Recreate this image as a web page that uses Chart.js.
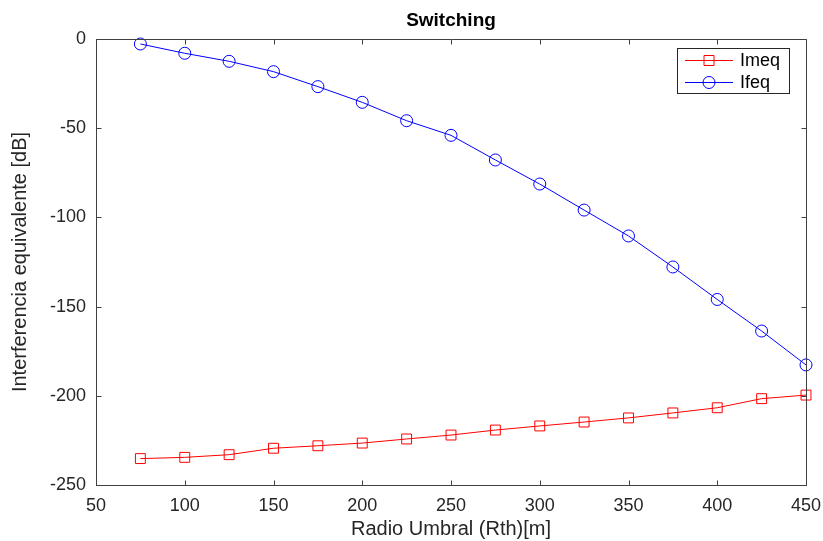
<!DOCTYPE html>
<html>
<head>
<meta charset="utf-8">
<script src="https://cdn.jsdelivr.net/npm/chart.js@4/dist/chart.umd.min.js"></script>
<style>
html,body{margin:0;padding:0;background:#fff;}
#wrap{width:823px;height:541px;}
</style>
</head>
<body>
<div id="wrap"><canvas id="c" width="823" height="541"></canvas></div>
<script>
const radioUmbral = [75,100,125,150,175,200,225,250,275,300,325,350,375,400,425,450];
const imeq = [-235.2,-234.5,-233,-229.4,-228,-226.5,-224.2,-222,-219.2,-216.9,-214.7,-212.4,-209.6,-206.7,-201.6,-199.6];
const ifeq = [-2.8,-8,-12.5,-18.3,-26.7,-35.5,-45.8,-54,-67.8,-81.3,-95.9,-110.4,-127.8,-146,-163.7,-182.7];
const xTicks = [50,100,150,200,250,300,350,400,450];
const yTicks = [0,-50,-100,-150,-200,-250];

const AX = '#404040';
const TXT = '#262626';
const FONT = "'Liberation Sans', Arial, Helvetica, sans-serif";

const framePlugin = {
  id: 'frame',
  afterDraw(chart) {
    const ctx = chart.ctx, a = chart.chartArea;
    const xs = chart.scales.x, ys = chart.scales.y;
    ctx.save();
    ctx.strokeStyle = AX; ctx.lineWidth = 1;
    ctx.beginPath();
    const L = Math.round(a.left)+0.5, R = Math.round(a.right)+0.5, T = Math.round(a.top)+0.5, B = Math.round(a.bottom)+0.5;
    ctx.rect(L, T, R-L, B-T);
    const tl = 5;
    xTicks.forEach(v => {
      const px = Math.round(xs.getPixelForValue(v))+0.5;
      ctx.moveTo(px, B); ctx.lineTo(px, B - tl);
      ctx.moveTo(px, T); ctx.lineTo(px, T + tl);
    });
    yTicks.forEach(v => {
      const py = Math.round(ys.getPixelForValue(v))+0.5;
      ctx.moveTo(L, py); ctx.lineTo(L + tl, py);
      ctx.moveTo(R, py); ctx.lineTo(R - tl, py);
    });
    ctx.stroke();

    // legend
    const bx = 677.5, by = 48.5, bw = 112, bh = 45;
    ctx.fillStyle = '#fff';
    ctx.fillRect(bx, by, bw, bh);
    ctx.strokeStyle = '#262626';
    ctx.strokeRect(bx, by, bw, bh);
    const rows = [60, 82];
    chart.data.datasets.forEach((ds, i) => {
      const y = rows[i] + 0.5;
      ctx.strokeStyle = ds.borderColor; ctx.lineWidth = 1;
      ctx.beginPath(); ctx.moveTo(685, y); ctx.lineTo(733, y); ctx.stroke();
      ctx.beginPath();
      if (ds.pointStyle === 'rect') {
        ctx.rect(709 - 5, y - 5, 10, 10);
      } else {
        ctx.arc(709, y, 6, 0, Math.PI*2);
      }
      ctx.stroke();
      ctx.fillStyle = '#000';
      ctx.font = '18px ' + FONT;
      ctx.textBaseline = 'middle';
      ctx.textAlign = 'left';
      ctx.fillText(ds.label, 740, rows[i] + 1);
    });
    ctx.restore();
  }
};

new Chart(document.getElementById('c'), {
  type: 'line',
  data: {
    datasets: [
      {
        label: 'Imeq',
        data: radioUmbral.map((x, i) => ({x: x, y: imeq[i]})),
        borderColor: '#ff0000',
        backgroundColor: 'rgba(0,0,0,0)',
        borderWidth: 1,
        pointStyle: 'rect',
        pointRadius: 7,
        pointBorderWidth: 1,
        pointBackgroundColor: 'rgba(0,0,0,0)',
        pointBorderColor: '#ff0000',
        tension: 0
      },
      {
        label: 'Ifeq',
        data: radioUmbral.map((x, i) => ({x: x, y: ifeq[i]})),
        borderColor: '#0000ff',
        backgroundColor: 'rgba(0,0,0,0)',
        borderWidth: 1,
        pointStyle: 'circle',
        pointRadius: 6,
        pointBorderWidth: 1,
        pointBackgroundColor: 'rgba(0,0,0,0)',
        pointBorderColor: '#0000ff',
        tension: 0
      }
    ]
  },
  options: {
    responsive: false,
    animation: false,
    clip: false,
    layout: { padding: { left: 0, right: 17, top: 0, bottom: 0 } },
    plugins: {
      legend: { display: false },
      tooltip: { enabled: false },
      title: {
        display: true,
        text: 'Switching',
        fullSize: false,
        color: '#000',
        font: { family: FONT, size: 19, weight: 'bold' },
        padding: { top: 9, bottom: 7.2 }
      }
    },
    scales: {
      x: {
        type: 'linear',
        min: 50, max: 450,
        afterBuildTicks(scale) { scale.ticks = xTicks.map(v => ({value: v})); },
        afterFit(scale) { scale.height = 56; scale.paddingLeft = 0; scale.paddingRight = 0; },
        grid: { display: false, drawTicks: false },
        border: { display: true, color: AX, width: 1 },
        ticks: { color: TXT, font: { family: FONT, size: 18 }, padding: 10, maxRotation: 0, autoSkip: false },
        title: { display: true, text: 'Radio Umbral (Rth)[m]', color: TXT, font: { family: FONT, size: 20 }, padding: { top: 0, bottom: 0 } }
      },
      y: {
        type: 'linear',
        min: -250, max: 0,
        afterBuildTicks(scale) { scale.ticks = yTicks.slice().reverse().map(v => ({value: v})); },
        afterFit(scale) { scale.width = 96; scale.paddingTop = 0; scale.paddingBottom = 0; },
        grid: { display: false, drawTicks: false },
        border: { display: true, color: AX, width: 1 },
        ticks: { color: TXT, font: { family: FONT, size: 18 }, padding: 10, autoSkip: false },
        title: { display: true, text: 'Interferencia equivalente [dB]', color: TXT, font: { family: FONT, size: 20 }, padding: { top: 8, bottom: 0 } }
      }
    }
  },
  plugins: [framePlugin]
});
</script>
</body>
</html>
